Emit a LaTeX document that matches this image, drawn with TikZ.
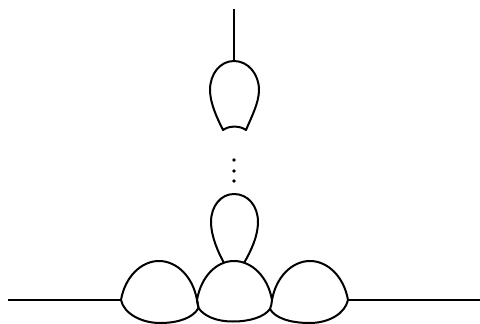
\documentclass[tikz,border=0pt]{standalone}
\tikzset{curve/.style={line width=2pt,line join=round,black},dotmark/.style={circle,fill=black,inner sep=0pt,minimum size=3.6pt}}
\begin{document}
\begin{tikzpicture}[x=1pt,y=-1pt]
\useasboundingbox (0,0) rectangle (480,324);
\fill[white] (0,0) rectangle (480,324);
% stem and top bulb
\coordinate (stemtop) at (234,9);
\coordinate (bulbtop) at (234,61);
\coordinate (bl) at (223,130);
\coordinate (br) at (246,130);
\draw[curve] (stemtop) -- (bulbtop);
\draw[curve] (bulbtop) .. controls (220,61) and (210,74) .. (210,90)
  .. controls (210,103) and (217,118) .. (bl)
  .. controls (229,125.5) and (240,125.5) .. (br)
  .. controls (251,118) and (259,103) .. (259,90)
  .. controls (259,74) and (248,61) .. (bulbtop) -- cycle;
% dots
\node[dotmark] (d1) at (234,160) {};
\node[dotmark] (d2) at (234,171) {};
\node[dotmark] (d3) at (234,181) {};
% baseline points
\coordinate (a0) at (8,300);
\coordinate (a1) at (121,300);
\coordinate (a2) at (197,300);
\coordinate (a3) at (272,300);
\coordinate (a4) at (348,300);
\coordinate (a5) at (480,300);
\draw[curve] (a0) -- (a1);
\draw[curve] (a4) -- (a5);
% left bubble
\draw[curve] (a1) .. controls (125,277) and (141,261) .. (159,261)
  .. controls (177,261) and (193,277) .. (a2)
  .. controls (197.5,303) and (198,305) .. (198.5,308)
  .. controls (193,318) and (178,323) .. (160,323)
  .. controls (142,323) and (124,314) .. (a1) -- cycle;
% middle bubble
\draw[curve] (a2) .. controls (201,277) and (216,261) .. (234,261)
  .. controls (252,261) and (268,277) .. (a3)
  .. controls (272,303) and (271,306) .. (270,309)
  .. controls (264,317) and (250,321.5) .. (233,321.5)
  .. controls (216,321.5) and (204,316) .. (198.5,308)
  .. controls (198,305) and (197.5,303) .. (a2) -- cycle;
% right bubble
\draw[curve] (a3) .. controls (276,277) and (292,261) .. (310,261)
  .. controls (328,261) and (344,277) .. (a4)
  .. controls (345,314) and (328,323) .. (310,323)
  .. controls (290,323) and (275,318) .. (270,309);
% loop
\coordinate (ll) at (224,263);
\coordinate (lr) at (244,263);
\draw[curve] (ll) .. controls (218,252) and (211,236) .. (211,222)
  .. controls (211,206) and (221,194) .. (234,194)
  .. controls (248,194) and (258,206) .. (258,222)
  .. controls (258,236) and (251,251) .. (lr);
\end{tikzpicture}
\end{document}
